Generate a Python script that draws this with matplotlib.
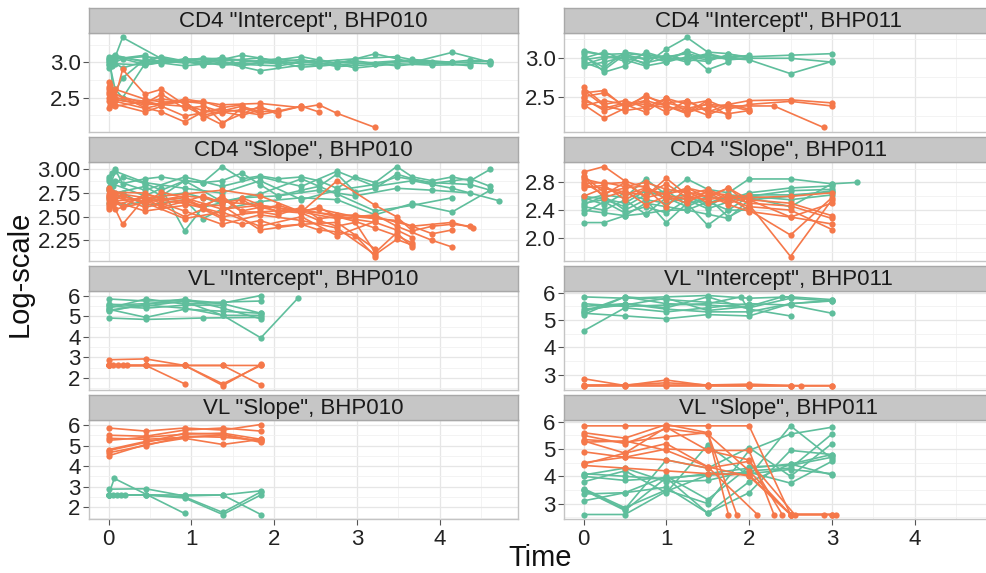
import matplotlib
matplotlib.use('Agg')
import matplotlib.pyplot as plt
from matplotlib.ticker import FixedLocator, MultipleLocator, FormatStrFormatter

plt.rcParams['font.family'] = ['Liberation Sans', 'DejaVu Sans']

GREEN = '#5FBE9C'
ORANGE = '#F5784A'

# ---- CD4 "Intercept", BHP010 : (time, log value) per subject ----
cd4i_010_green = [
    ([0, .08, .44, .92, 1.37, 1.83, 2.33, 2.76, 3.22, 3.67, 4.15, 4.61],
     [2.98, 3.05, 3.08, 3.02, 3.06, 3.00, 3.08, 2.98, 3.12, 3.00, 3.14, 3.00]),
    ([0, .04, .17, .64, 1.14, 1.61, 2.05, 2.54, 2.98, 3.48, 3.91, 4.37, 4.61],
     [3.02, 2.95, 3.35, 3.05, 2.98, 3.10, 3.02, 2.95, 2.98, 3.02, 2.98, 3.03, 3.01]),
    ([0, .08, .17, .44, .92, 1.37, 1.83, 2.33, 2.76, 3.22, 3.67, 4.15],
     [3.05, 2.62, 2.50, 2.98, 3.04, 2.96, 2.99, 3.04, 2.94, 2.97, 3.04, 3.00]),
    ([.02, .08, .44, .64, 1.14, 1.61, 2.05, 2.54, 2.98, 3.48, 3.91, 4.37],
     [2.95, 3.10, 3.00, 3.02, 3.05, 2.97, 2.95, 3.04, 2.92, 2.98, 2.96, 2.97]),
    ([0, .06, .44, .92, 1.37, 1.83, 2.33, 2.76, 3.22, 3.67, 4.15, 4.61],
     [3.00, 3.08, 3.02, 2.95, 3.00, 2.88, 2.96, 3.00, 2.98, 3.02, 3.00, 2.98]),
    ([0, .04, .17, .64, 1.14, 1.61, 2.05, 2.54, 2.98, 3.48, 3.91, 4.37],
     [3.08, 3.02, 2.92, 3.08, 2.97, 3.00, 3.05, 2.98, 3.02, 2.95, 3.00, 2.95]),
    ([0, .08, .44, .92, 1.37, 1.83, 2.33, 2.76],
     [2.92, 2.98, 2.96, 3.05, 3.02, 3.06, 2.93, 2.97]),
    ([.02, .06, .17, .44, .92, 1.37],
     [3.00, 2.55, 2.78, 3.04, 2.99, 3.03]),
    ([0, .04, .44, .64, 1.14, 1.61, 2.05, 2.54, 2.98, 3.48, 3.91, 4.61],
     [2.96, 3.04, 3.10, 2.98, 3.06, 3.03, 2.99, 3.01, 3.05, 3.08, 2.98, 3.02]),
    ([0, .06, .17, .44, .64, .92, 1.14, 1.37, 1.61, 1.83, 2.05],
     [3.04, 2.99, 3.05, 2.97, 3.00, 3.02, 2.96, 3.08, 2.95, 3.00, 2.98]),
]
cd4i_010_orange = [
    ([0, .04, .44, .64, .92, 1.14, 1.37, 1.61, 1.83, 2.05, 2.33],
     [2.55, 2.48, 2.42, 2.55, 2.35, 2.38, 2.30, 2.33, 2.35, 2.30, 2.38]),
    ([0, .08, .44, .92, 1.37, 1.83, 2.33, 2.54, 2.76, 3.22],
     [2.62, 2.45, 2.35, 2.48, 2.40, 2.42, 2.36, 2.40, 2.28, 2.08]),
    ([.02, .06, .17, .44, .64, .92, 1.14, 1.37],
     [2.68, 2.40, 2.90, 2.55, 2.62, 2.40, 2.32, 2.28]),
    ([0, .04, .44, .64, .92, 1.14, 1.37],
     [2.45, 2.58, 2.36, 2.30, 2.16, 2.30, 2.35]),
    ([0, .08, .44, .64, .92, 1.14, 1.61, 1.83, 2.05],
     [2.72, 2.50, 2.45, 2.40, 2.45, 2.25, 2.38, 2.30, 2.32]),
    ([0, .06, .44, .92, 1.37, 1.61, 1.83],
     [2.50, 2.55, 2.42, 2.38, 2.12, 2.36, 2.28]),
    ([.02, .08, .44, .64, 1.14, 1.37, 1.61],
     [2.40, 2.62, 2.48, 2.44, 2.45, 2.36, 2.40]),
    ([0, .04, .44, .64, .92, 1.37, 1.83, 2.33, 2.54],
     [2.58, 2.42, 2.30, 2.38, 2.24, 2.34, 2.26, 2.38, 2.30]),
    ([0, .06, .44, .92, 1.14, 1.37, 1.61, 1.83],
     [2.35, 2.48, 2.40, 2.45, 2.22, 2.30, 2.25, 2.33]),
    ([0, .08, .64, 1.14, 1.37, 1.83, 2.05],
     [2.65, 2.38, 2.48, 2.42, 2.15, 2.38, 2.26]),
]

# ---- CD4 "Intercept", BHP011 ----
cd4i_011_green = [
    ([0, .25, .5, .75, 1, 1.25, 1.5, 1.75, 2, 2.5, 3],
     [3.08, 3.05, 3.06, 3.04, 3.02, 3.06, 3.00, 3.02, 3.02, 3.04, 3.06]),
    ([0, .25, .5, .75, 1, 1.25, 1.5, 1.75, 2, 2.5, 3],
     [2.98, 3.02, 3.00, 2.94, 3.00, 2.98, 3.05, 2.98, 3.00, 3.00, 2.95]),
    ([0, .25, .5, .75, 1, 1.25, 1.5, 1.75, 2, 2.5, 3],
     [3.02, 2.88, 3.08, 3.04, 2.95, 3.10, 3.00, 3.00, 2.98, 2.80, 2.96]),
    ([0, .25, .5, .75, 1, 1.25, 1.5, 1.75, 2],
     [2.95, 2.85, 3.05, 2.98, 3.04, 2.98, 2.96, 3.05, 3.02]),
    ([0, .25, .5, .75, 1, 1.25, 1.5, 1.75],
     [3.05, 2.82, 2.90, 3.08, 3.00, 3.08, 2.85, 2.95]),
    ([0, .25, .5, .75, 1, 1.25, 1.5, 1.75, 2],
     [2.92, 3.00, 3.04, 2.92, 3.12, 3.27, 3.08, 3.06, 3.00]),
    ([0, .25, .5, .75, 1, 1.25, 1.5],
     [3.00, 3.08, 2.98, 2.90, 2.95, 3.02, 2.98]),
    ([0, .25, .5, .75, 1, 1.25, 1.5, 1.75, 2],
     [2.90, 2.95, 3.02, 3.00, 3.02, 2.95, 3.04, 3.00, 3.04]),
    ([0, .25, .5, .75, 1, 1.25, 1.5, 1.75],
     [3.10, 3.04, 2.96, 3.06, 2.98, 3.00, 3.06, 3.00]),
]
cd4i_011_orange = [
    ([0, .25, .5, .75, 1, 1.25, 1.5, 1.75, 2, 2.5, 3],
     [2.62, 2.40, 2.45, 2.36, 2.48, 2.30, 2.45, 2.34, 2.40, 2.44, 2.38]),
    ([0, .25, .5, .75, 1, 1.25, 1.5, 1.75, 2, 2.5, 3],
     [2.50, 2.55, 2.38, 2.50, 2.42, 2.45, 2.30, 2.40, 2.45, 2.46, 2.42]),
    ([0, .25, .5, .75, 1, 1.25, 1.5, 1.75, 2.3, 2.9],
     [2.45, 2.35, 2.42, 2.40, 2.36, 2.35, 2.40, 2.38, 2.38, 2.10]),
    ([0, .25, .5, .75, 1, 1.25, 1.5, 1.75, 2],
     [2.55, 2.58, 2.36, 2.44, 2.30, 2.45, 2.32, 2.28, 2.32]),
    ([0, .25, .5, .75, 1, 1.25, 1.5, 1.75],
     [2.40, 2.22, 2.35, 2.52, 2.38, 2.28, 2.42, 2.25]),
    ([0, .25, .5, .75, 1, 1.25, 1.5, 1.75, 2],
     [2.58, 2.38, 2.32, 2.36, 2.42, 2.36, 2.26, 2.38, 2.32]),
    ([0, .25, .5, .75, 1, 1.25, 1.5],
     [2.38, 2.45, 2.40, 2.30, 2.48, 2.40, 2.45]),
    ([0, .25, .5, .75, 1, 1.25, 1.5, 1.75, 2],
     [2.48, 2.32, 2.40, 2.45, 2.38, 2.30, 2.36, 2.40, 2.34]),
]

# ---- CD4 "Slope", BHP010 ----
cd4s_010_green = [
    ([0, .04, .08, .17, .44, .64, .92, 1.14, 1.37, 1.61, 1.83, 2.05, 2.33, 2.54,
      2.76, 2.98, 3.22, 3.48, 3.67, 3.91, 4.15, 4.37, 4.61],
     [2.92, 2.96, 3.00, 2.85, 2.90, 2.92, 2.88, 2.86, 3.03, 2.90, 2.93, 2.90, 2.92,
      2.88, 2.80, 2.92, 2.86, 3.03, 2.92, 2.88, 2.92, 2.88, 3.00]),
    ([0, .06, .17, .44, .64, .92, 1.14, 1.37, 1.61, 1.83, 2.05, 2.33, 2.54, 2.76,
      2.98, 3.22, 3.48, 3.67, 3.91, 4.15, 4.37, 4.61],
     [2.88, 2.82, 2.92, 2.85, 2.78, 2.88, 2.86, 2.88, 2.96, 2.84, 2.72, 2.78, 2.82,
      2.95, 2.76, 2.80, 2.95, 2.90, 2.85, 2.88, 2.90, 2.82]),
    ([0, .08, .44, .92, 1.37, 1.83, 2.33, 2.76, 3.22, 3.67, 4.15, 4.71],
     [2.80, 2.88, 2.78, 2.92, 2.82, 2.92, 2.82, 2.98, 2.82, 2.88, 2.80, 2.67]),
    ([0, .04, .44, .64, .92, 1.14, 1.61, 2.05, 2.54, 2.98, 3.48, 3.91, 4.37],
     [2.70, 2.85, 2.72, 2.80, 2.35, 2.60, 2.70, 2.72, 2.78, 2.72, 2.80, 2.78, 2.75]),
    ([0, .06, .17, .44, .92, 1.14, 1.37, 1.83, 2.33, 2.76, 3.22, 3.67, 4.15, 4.61],
     [2.78, 2.66, 2.75, 2.62, 2.68, 2.48, 2.58, 2.66, 2.70, 2.68, 2.52, 2.64, 2.55, 2.78]),
    ([0, .08, .44, .64, .92, 1.37, 1.83, 2.33, 2.76, 3.22, 3.67, 4.15],
     [2.90, 2.75, 2.82, 2.72, 2.88, 2.66, 2.74, 2.90, 2.74, 2.56, 2.62, 2.70]),
    ([.02, .08, .44, .92, 1.37, 1.83, 2.33, 2.76, 3.22, 3.48, 3.91, 4.37, 4.61],
     [2.82, 2.98, 2.86, 2.80, 2.75, 2.88, 2.68, 2.78, 2.84, 2.92, 2.86, 2.84, 2.78]),
    ([0, .04, .17, .44, .64, .92, 1.14, 1.37],
     [2.64, 2.70, 2.62, 2.66, 2.72, 2.75, 2.70, 2.64]),
]
cd4s_010_orange = [
    ([0, .04, .17, .44, .64, .92, 1.14, 1.37, 1.61, 1.83, 2.05, 2.33, 2.54, 2.76, 2.98, 3.22],
     [2.72, 2.68, 2.60, 2.74, 2.70, 2.66, 2.72, 2.65, 2.68, 2.58, 2.62, 2.55, 2.60, 2.50, 2.52, 2.48]),
    ([0, .08, .44, .64, .92, 1.14, 1.37, 1.61, 1.83, 2.05, 2.33, 2.54, 2.76, 2.98, 3.22, 3.48, 3.67],
     [2.65, 2.75, 2.70, 2.60, 2.66, 2.62, 2.70, 2.55, 2.55, 2.52, 2.60, 2.48, 2.50, 2.45, 2.38, 2.30, 2.22]),
    ([0, .06, .17, .44, .92, 1.37, 1.83, 2.33, 2.76, 3.22, 3.48, 3.67, 3.91, 4.15, 4.37],
     [2.78, 2.62, 2.42, 2.70, 2.74, 2.78, 2.72, 2.55, 2.88, 2.62, 2.50, 2.35, 2.40, 2.42, 2.40]),
    ([0, .04, .44, .64, .92, 1.14, 1.37, 1.83, 2.33, 2.76, 3.22, 3.48, 3.91, 4.15],
     [2.70, 2.76, 2.75, 2.68, 2.72, 2.70, 2.66, 2.62, 2.55, 2.48, 2.52, 2.40, 2.25, 2.18]),
    ([0, .08, .44, .64, .92, 1.14, 1.37, 1.61, 1.83, 2.05, 2.33, 2.54, 2.76, 2.98, 3.22],
     [2.62, 2.70, 2.66, 2.62, 2.50, 2.58, 2.48, 2.42, 2.46, 2.40, 2.42, 2.36, 2.34, 2.30, 2.08]),
    ([0, .06, .44, .92, 1.37, 1.83, 2.33, 2.76, 3.22, 3.48, 3.67],
     [2.68, 2.72, 2.60, 2.68, 2.50, 2.55, 2.58, 2.50, 2.44, 2.36, 2.28]),
    ([0, .04, .17, .44, .64, .92, 1.14, 1.37, 1.61, 1.83, 2.05, 2.33, 2.54, 2.76, 2.98, 3.22, 3.48, 3.67],
     [2.74, 2.68, 2.72, 2.64, 2.76, 2.70, 2.60, 2.72, 2.56, 2.60, 2.56, 2.54, 2.46, 2.40, 2.44, 2.12, 2.33, 2.18]),
    ([0, .08, .44, .92, 1.37, 1.83, 2.33, 2.76, 3.22],
     [2.60, 2.66, 2.56, 2.62, 2.62, 2.36, 2.42, 2.44, 2.16]),
    ([0, .04, .44, .92, 1.37, 1.61, 2.05, 2.54, 2.98, 3.48, 3.91, 4.15],
     [2.72, 2.66, 2.70, 2.64, 2.54, 2.70, 2.55, 2.58, 2.50, 2.46, 2.32, 2.36]),
    ([.02, .08, .44, .92, 1.37, 1.83, 2.33, 2.76, 3.22],
     [2.65, 2.58, 2.65, 2.48, 2.55, 2.40, 2.50, 2.30, 2.45]),
    ([0, .06, .44, .92, 1.37, 1.83, 2.33, 2.76, 3.22, 3.67, 4.15, 4.40],
     [2.80, 2.74, 2.66, 2.70, 2.58, 2.62, 2.56, 2.52, 2.50, 2.40, 2.44, 2.38]),
    ([0, .04, .44, .92, 1.37, 1.83, 2.33, 2.76, 3.22, 3.48, 3.67],
     [2.58, 2.62, 2.70, 2.56, 2.42, 2.52, 2.46, 2.38, 2.10, 2.26, 2.20]),
]

# ---- CD4 "Slope", BHP011 ----
cd4s_011_green = [
    ([0, .25, .5, .75, 1, 1.25, 1.5, 1.75, 2, 2.5, 3, 3.3],
     [2.55, 2.62, 2.58, 2.85, 2.62, 2.85, 2.70, 2.65, 2.85, 2.85, 2.78, 2.80]),
    ([0, .25, .5, .75, 1, 1.25, 1.5, 1.75, 2, 2.5, 3],
     [2.22, 2.22, 2.32, 2.35, 2.40, 2.40, 2.52, 2.40, 2.60, 2.68, 2.70]),
    ([0, .25, .5, .75, 1, 1.25, 1.5, 1.75, 2, 2.5, 3],
     [2.40, 2.36, 2.32, 2.50, 2.45, 2.40, 2.34, 2.28, 2.55, 2.60, 2.68]),
    ([0, .25, .5, .75, 1, 1.25, 1.5, 1.75, 2, 2.5, 3],
     [2.50, 2.55, 2.45, 2.62, 2.68, 2.48, 2.60, 2.55, 2.65, 2.72, 2.75]),
    ([0, .25, .5, .75, 1, 1.25, 1.5, 1.75, 2],
     [2.58, 2.48, 2.65, 2.55, 2.22, 2.50, 2.18, 2.40, 2.40]),
    ([0, .25, .5, .75, 1, 1.25, 1.5, 1.75, 2, 2.5, 3],
     [2.45, 2.40, 2.55, 2.34, 2.58, 2.62, 2.45, 2.62, 2.60, 2.55, 2.62]),
    ([0, .25, .5, .75, 1, 1.25, 1.5, 1.75, 2, 2.5, 3],
     [2.36, 2.52, 2.36, 2.45, 2.36, 2.55, 2.42, 2.52, 2.62, 2.62, 2.66]),
    ([0, .25, .5, .75, 1, 1.25, 1.5, 1.75, 2],
     [2.60, 2.56, 2.50, 2.68, 2.58, 2.45, 2.58, 2.30, 2.46]),
    ([0, .25, .5, .75, 1, 1.25, 1.5, 1.75, 2, 2.5, 3],
     [2.48, 2.60, 2.40, 2.55, 2.50, 2.58, 2.50, 2.60, 2.58, 2.45, 2.78]),
]
cd4s_011_orange = [
    ([0, .25, .5, .75, 1, 1.25, 1.5, 1.75, 2, 2.5, 3],
     [2.95, 3.03, 2.82, 2.72, 2.62, 2.72, 2.65, 2.62, 2.55, 2.30, 2.50]),
    ([0, .25, .5, .75, 1, 1.25, 1.5, 1.75, 2, 2.5, 3],
     [2.85, 2.78, 2.80, 2.60, 2.86, 2.62, 2.70, 2.58, 2.40, 2.04, 2.58]),
    ([0, .25, .5, .75, 1, 1.25, 1.5, 1.75, 2, 2.5, 3],
     [2.78, 2.80, 2.74, 2.80, 2.70, 2.66, 2.60, 2.72, 2.48, 1.73, 2.55]),
    ([0, .25, .5, .75, 1, 1.25, 1.5, 1.75, 2, 2.5, 3],
     [2.90, 2.65, 2.72, 2.75, 2.55, 2.60, 2.55, 2.60, 2.50, 2.46, 2.28]),
    ([0, .25, .5, .75, 1, 1.25, 1.5, 1.75, 2, 2.5, 3],
     [2.72, 2.76, 2.55, 2.70, 2.62, 2.55, 2.62, 2.48, 2.38, 2.30, 2.20]),
    ([0, .25, .5, .75, 1, 1.25, 1.5, 1.75, 2, 2.5, 3],
     [2.80, 2.62, 2.80, 2.58, 2.65, 2.68, 2.50, 2.56, 2.45, 2.40, 2.12]),
    ([0, .25, .5, .75, 1, 1.25, 1.5, 1.75, 2, 2.5, 3],
     [2.60, 2.72, 2.62, 2.72, 2.45, 2.72, 2.58, 2.72, 2.55, 2.50, 2.32]),
    ([0, .25, .5, .75, 1, 1.25, 1.5, 1.75, 2],
     [2.88, 2.58, 2.68, 2.48, 2.60, 2.50, 2.68, 2.55, 2.62]),
    ([0, .25, .5, .75, 1, 1.25, 1.5, 1.75, 2, 2.5, 3],
     [2.75, 2.72, 2.66, 2.62, 2.78, 2.58, 2.66, 2.50, 2.58, 2.60, 2.65]),
]

# ---- VL "Intercept", BHP010 ----
vli_010_green = [
    ([0, .45, .92, 1.38, 1.84], [5.85, 5.75, 5.80, 5.65, 6.02]),
    ([0, .45, .92, 1.38, 1.84], [5.40, 5.85, 5.60, 5.70, 5.75]),
    ([0, .45, .92, 1.38, 1.84], [5.60, 5.50, 5.75, 5.62, 5.15]),
    ([0, .45, .92, 1.38, 1.84], [5.30, 5.55, 5.40, 5.05, 5.05]),
    ([0, .45, .92, 1.38, 1.84, 2.29], [5.55, 5.62, 5.72, 5.05, 3.95, 5.90]),
    ([0, .45, 1.14, 1.84], [4.92, 4.85, 4.92, 4.95]),
    ([0, .45, .92, 1.38, 1.84], [5.35, 4.95, 5.35, 5.25, 5.15]),
    ([0, .45, .92, 1.38], [5.50, 5.40, 5.55, 5.55]),
    ([0, .45, .92, 1.38, 1.84], [5.25, 5.60, 5.85, 5.40, 4.88]),
]
vli_010_orange = [
    ([0, .45, .92, 1.38, 1.84], [2.88, 2.92, 2.60, 2.60, 2.60]),
    ([0, .06, .12, .17, .22], [2.60, 2.60, 2.60, 2.60, 2.60]),
    ([0, .45, .92], [2.60, 2.60, 1.70]),
    ([0, .45, .92, 1.38, 1.84], [2.60, 2.60, 2.60, 1.70, 2.60]),
    ([0, .45, .92, 1.38, 1.84], [2.60, 2.60, 2.60, 2.60, 1.65]),
    ([0, .45, .92, 1.38, 1.84], [2.60, 2.60, 2.60, 1.62, 2.65]),
]

# ---- VL "Intercept", BHP011 ----
vli_011_green = [
    ([0, .5, 1, 1.5, 2, 2.5, 3], [5.85, 5.80, 5.85, 5.90, 5.80, 5.85, 5.75]),
    ([0, .5, 1, 1.5, 2, 2.5, 3], [5.30, 5.85, 5.60, 5.55, 5.45, 5.80, 5.70]),
    ([0, .5, 1, 1.5, 2, 2.5, 3], [4.60, 5.45, 5.30, 5.45, 5.60, 5.55, 5.25]),
    ([0, .5, 1, 1.5, 2, 2.5, 3], [5.25, 5.15, 5.05, 5.20, 5.15, 5.60, 5.72]),
    ([0, .5, 1, 1.5, 2, 2.5], [5.50, 5.60, 5.45, 5.85, 5.40, 5.15]),
    ([0, .5, 1, 1.5, 2, 2.4, 2.5], [5.40, 5.55, 5.80, 5.35, 5.50, 5.85, 5.85]),
    ([0, .5, 1, 1.5, 1.9, 2], [5.60, 5.50, 5.55, 5.60, 5.85, 5.35]),
    ([0, .5, 1, 1.5, 2, 2.5, 3], [5.35, 5.60, 5.40, 5.30, 5.30, 5.60, 5.70]),
    ([0, .5, 1, 1.5, 2], [5.20, 5.85, 5.75, 5.65, 5.55]),
]
vli_011_orange = [
    ([0, .5, 1, 1.5, 2, 2.5, 3], [2.85, 2.60, 2.80, 2.60, 2.60, 2.60, 2.60]),
    ([0, .5, 1, 1.5, 2, 2.5, 2.63, 3], [2.60, 2.60, 2.60, 2.60, 2.60, 2.60, 2.60, 2.60]),
    ([0, .5, 1, 1.5, 2], [2.62, 2.62, 2.62, 2.62, 2.62]),
    ([0, .5, 1, 1.5, 2, 2.5], [2.60, 2.62, 2.70, 2.62, 2.65, 2.60]),
]

# ---- VL "Slope", BHP010 ----
vls_010_green = [
    ([0, .07, .92], [2.60, 3.40, 1.70]),
    ([0, .45, .92, 1.38, 1.84], [2.88, 2.90, 2.55, 2.60, 2.80]),
    ([0, .05, .1, .15, .2], [2.60, 2.60, 2.60, 2.60, 2.60]),
    ([0, .45, .92, 1.38, 1.84], [2.60, 2.60, 2.45, 1.65, 2.60]),
    ([0, .45, .92, 1.38, 1.84], [2.60, 2.60, 2.60, 2.60, 1.65]),
    ([0, .45, .92, 1.38, 1.84], [2.60, 2.60, 2.50, 1.75, 2.75]),
]
vls_010_orange = [
    ([0, .45, .92, 1.38, 1.84], [5.85, 5.70, 5.85, 5.75, 6.02]),
    ([0, .45, .92, 1.38, 1.84], [5.50, 5.45, 5.75, 5.85, 5.70]),
    ([0, .45, .92, 1.38, 1.84], [5.25, 5.40, 5.55, 5.60, 5.30]),
    ([0, .45, .92, 1.38, 1.84], [4.80, 5.20, 5.40, 5.50, 5.20]),
    ([0, .45, .92, 1.38, 1.84], [4.65, 5.00, 5.45, 5.40, 5.25]),
    ([0, .45, .92, 1.38, 1.84], [4.50, 5.05, 5.35, 5.05, 5.30]),
    ([0, .45, .92, 1.38], [5.35, 5.30, 5.40, 5.50]),
    ([0, .45, .92, 1.38, 1.84], [4.75, 5.15, 5.60, 5.55, 5.15]),
]

# ---- VL "Slope", BHP011 ----
vls_011_green = [
    ([0, .5, 1, 1.5, 2, 2.5, 3], [4.10, 4.00, 3.90, 4.10, 4.30, 4.45, 4.05]),
    ([0, .5, 1, 1.5, 2, 2.5, 3], [4.00, 3.85, 3.95, 4.05, 4.10, 4.25, 4.10]),
    ([0, .5, 1, 1.5, 2, 2.5, 3], [3.80, 4.20, 3.40, 5.15, 4.00, 5.85, 4.65]),
    ([0, .5, 1, 1.5, 2, 2.5, 3], [3.55, 2.85, 3.50, 3.00, 4.95, 5.55, 5.80]),
    ([0, .5, 1, 1.5, 2, 2.5, 3], [3.50, 2.75, 3.95, 2.65, 3.40, 4.95, 4.80]),
    ([0, .5, 1, 1.5, 2, 2.5, 3], [3.10, 3.40, 4.00, 3.15, 4.35, 4.40, 4.70]),
    ([0, .5, 1, 1.5, 2, 2.5, 3], [2.60, 2.60, 3.45, 4.05, 4.15, 3.75, 4.55]),
    ([0, .5, 1, 1.5, 2, 2.5, 3], [4.05, 4.30, 3.80, 3.85, 4.20, 4.30, 5.55]),
    ([0, .5, 1, 1.5, 2, 2.5, 3], [3.50, 2.80, 4.60, 4.30, 5.05, 4.00, 5.20]),
    ([0, .5, 1, 1.5, 2, 2.5, 3], [3.35, 3.40, 3.60, 2.65, 3.80, 4.45, 4.80]),
]
vls_011_orange = [
    ([0, .5, 1, 1.5, 2, 2.5], [5.85, 5.85, 5.85, 5.85, 5.85, 2.60]),
    ([0, .5, 1, 1.5, 1.75], [5.60, 5.40, 5.90, 5.60, 2.60]),
    ([0, .5, 1, 1.5, 2, 2.5, 3], [5.50, 5.20, 5.75, 5.55, 4.20, 2.60, 2.60]),
    ([0, .5, 1, 1.5, 1.85], [5.35, 5.25, 5.45, 5.60, 2.60]),
    ([0, .5, 1, 1.5, 2, 2.3], [5.30, 4.85, 5.80, 4.95, 4.95, 2.60]),
    ([0, .5, 1, 1.5, 2, 2.5, 3], [5.25, 5.30, 4.95, 4.35, 4.00, 2.60, 2.60]),
    ([0, .5, 1, 1.5, 2, 2.55, 3.05], [4.90, 4.70, 4.60, 4.30, 4.55, 2.60, 2.60]),
    ([0, .5, 1, 1.5, 2.1], [4.45, 4.85, 5.20, 4.35, 2.60]),
    ([0, .5, 1, 1.5, 2, 2.5, 2.9], [4.40, 4.30, 4.20, 4.10, 4.05, 2.60, 2.60]),
    ([0, .5, 1, 1.5, 2, 2.4], [4.50, 4.70, 5.00, 4.95, 4.60, 2.60]),
]

titles = [
    ['CD4 "Intercept", BHP010', 'CD4 "Intercept", BHP011'],
    ['CD4 "Slope", BHP010', 'CD4 "Slope", BHP011'],
    ['VL "Intercept", BHP010', 'VL "Intercept", BHP011'],
    ['VL "Slope", BHP010', 'VL "Slope", BHP011'],
]
series = [
    [(cd4i_010_green, cd4i_010_orange), (cd4i_011_green, cd4i_011_orange)],
    [(cd4s_010_green, cd4s_010_orange), (cd4s_011_green, cd4s_011_orange)],
    [(vli_010_green, vli_010_orange), (vli_011_green, vli_011_orange)],
    [(vls_010_green, vls_010_orange), (vls_011_green, vls_011_orange)],
]
y_ticks = [
    [[2.5, 3.0], [2.5, 3.0]],
    [[2.25, 2.5, 2.75, 3.0], [2.0, 2.4, 2.8]],
    [[2, 3, 4, 5, 6], [3, 4, 5, 6]],
    [[2, 3, 4, 5, 6], [3, 4, 5, 6]],
]
y_fmt = [['%.1f', '%.1f'], ['%.2f', '%.1f'], ['%d', '%d'], ['%d', '%d']]
x_ticks = [0, 1, 2, 3, 4]

# free y scales, ggplot-style 5% padding
def padded(groups):
    vals = [v for g in groups for _, ys in g for v in ys]
    lo, hi = min(vals), max(vals)
    pad = (hi - lo) * 0.05
    return lo - pad, hi + pad

W, H = 986, 573
fig = plt.figure(figsize=(W / 100, H / 100), dpi=100)

col_left = [89, 564]
panel_w = 429
row_top = [33, 162, 291, 420]
panel_h = 99
strip_h = 25

all_t = [t for row in series for cell in row for g in cell for ts, _ in g for t in ts]
pad_x = (max(all_t) - min(all_t)) * 0.05
xlim = (min(all_t) - pad_x, max(all_t) + pad_x)

for r in range(4):
    for c in range(2):
        x0 = col_left[c]
        top = row_top[r]
        ax = fig.add_axes([x0 / W, 1 - (top + panel_h) / H, panel_w / W, panel_h / H])
        sax = fig.add_axes([x0 / W, 1 - top / H, panel_w / W, strip_h / H])

        green, orange = series[r][c]
        for ts, ys in green:
            ax.plot(ts, ys, '-o', color=GREEN, lw=1.2, ms=4.5, mew=0, zorder=3)
        for ts, ys in orange:
            ax.plot(ts, ys, '-o', color=ORANGE, lw=1.2, ms=4.5, mew=0, zorder=3)

        ax.set_xlim(*xlim)
        ax.set_ylim(*padded([green, orange]))
        ax.xaxis.set_major_locator(FixedLocator(x_ticks))
        ax.xaxis.set_minor_locator(MultipleLocator(0.5))
        yt = y_ticks[r][c]
        ax.yaxis.set_major_locator(FixedLocator(yt))
        ax.yaxis.set_minor_locator(MultipleLocator((yt[1] - yt[0]) / 2))
        ax.yaxis.set_major_formatter(FormatStrFormatter(y_fmt[r][c]))
        ax.grid(which='major', color='#E6E6E6', lw=0.9, zorder=0)
        ax.grid(which='minor', color='#F1F1F1', lw=0.6, zorder=0)
        ax.set_axisbelow(True)
        for s in ax.spines.values():
            s.set_color('#C4C4C4')
            s.set_linewidth(1.0)
        ax.tick_params(axis='y', which='major', length=4, width=0.8, color='#555555',
                       labelsize=16, labelcolor='#222222', pad=2)
        ax.tick_params(which='minor', length=0)
        if r == 3:
            ax.tick_params(axis='x', which='major', length=4, width=0.8, color='#555555',
                           labelsize=16, labelcolor='#222222', pad=3)
        else:
            ax.tick_params(axis='x', which='major', length=0, labelbottom=False)

        sax.set_facecolor('#C6C6C6')
        sax.set_xticks([])
        sax.set_yticks([])
        for s in sax.spines.values():
            s.set_color('#A8A8A8')
            s.set_linewidth(1.0)
        sax.text(0.5, 0.45, titles[r][c], ha='center', va='center', fontsize=16,
                 color='#1A1A1A', transform=sax.transAxes)

fig.text(20 / W, 1 - 274 / H, 'Log-scale', rotation=90, ha='center', va='center',
         fontsize=21, color='#111111')
fig.text(540 / W, 1 - 558 / H, 'Time', ha='center', va='center', fontsize=21,
         color='#111111')

fig.savefig('out.png', dpi=100)
